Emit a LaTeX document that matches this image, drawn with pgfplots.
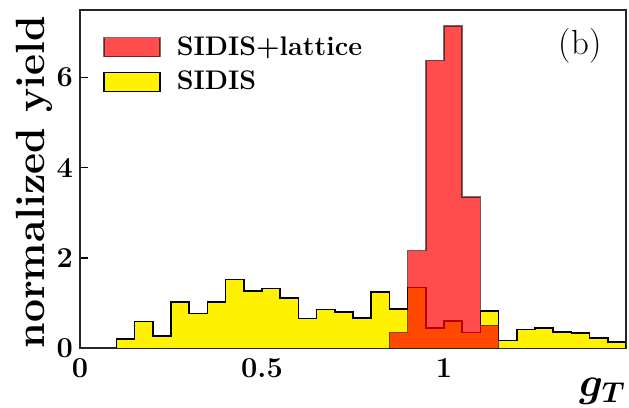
\documentclass[border=0pt]{standalone}
\usepackage{pgfplots}
\usepackage{bm}
\pgfplotsset{compat=1.18}
\begin{document}
\begin{tikzpicture}
\begin{axis}[
  scale only axis, width=273bp, height=169bp,
  xmin=0, xmax=1.5, ymin=0, ymax=7.5,
  axis line style={line width=0.75pt, black!85},
  xtick={0,0.5,1}, minor xtick={0.25,0.75,1.25},
  ytick={0,2,4,6},
  xticklabels={0,0.5,1},
  yticklabels={0,2,4,6},
  xtick pos=left, ytick pos=left,
  tick align=inside,
  major tick length=4bp, minor tick length=4bp,
  tick style={black, line width=0.75pt},
  ticklabel style={font=\fontsize{14.5}{14.5}\selectfont\bfseries},
  xticklabel style={yshift=-2bp},
  ylabel={\fontsize{20.5}{20.5}\selectfont\bfseries normalized yield},
  ylabel style={at={(axis description cs:-0.084,0.49)}, anchor=center},
  xlabel={\fontsize{21}{21}\selectfont$\bm{g}_{\bm{T}}$},
  xlabel style={at={(axis description cs:1,0)}, anchor=north east, inner sep=0pt, yshift=-15bp},
  legend image code/.code={\draw[#1] (0bp,-4.75bp) rectangle (28bp,4.75bp); \path (34bp,0bp);},
  reverse legend,
  legend cell align=left,
  legend style={at={(axis description cs:0.042,0.935)}, anchor=north west, draw=none, fill=none,
    inner sep=0pt, font=\fontsize{13.5}{13.5}\selectfont\bfseries, row sep=2.5bp},
]
\addplot[const plot, fill=yellow, draw=black, line width=0.75pt] coordinates {
(0.10,0) (0.10,0.20) (0.15,0.59) (0.20,0.27) (0.25,1.02) (0.30,0.76) (0.35,1.02)
(0.40,1.52) (0.45,1.26) (0.50,1.32) (0.55,1.11) (0.60,0.65) (0.65,0.85)
(0.70,0.80) (0.75,0.67) (0.80,1.24) (0.85,0.86) (0.90,1.34) (0.95,0.44)
(1.00,0.60) (1.05,0.34) (1.10,0.82) (1.15,0.17) (1.20,0.41) (1.25,0.44)
(1.30,0.35) (1.35,0.33) (1.40,0.22) (1.45,0.13) (1.50,0.13) (1.50,0)
};
\addlegendentry{SIDIS}
\addplot[const plot, fill=red, fill opacity=0.7, draw=black, draw opacity=0.55, line width=0.75pt] coordinates {
(0.85,0) (0.85,0.34) (0.90,2.16) (0.95,6.38) (1.00,7.15) (1.05,3.35) (1.10,0.50) (1.15,0.50) (1.15,0)
};
\addlegendentry{SIDIS+lattice}
\node[anchor=center] at (axis description cs:0.916,0.893) {\fontsize{17.5}{17.5}\selectfont (b)};
\end{axis}
\pgfresetboundingbox
\path ([shift={(-40bp,-30bp)}]current axis.south west) rectangle ([shift={(1.5bp,5bp)}]current axis.north east);
\end{tikzpicture}
\end{document}
